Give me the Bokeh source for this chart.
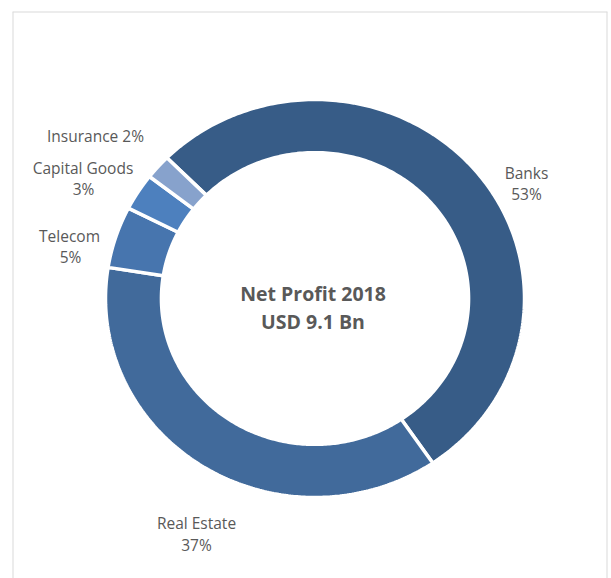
import numpy as np
from bokeh.plotting import figure
from bokeh.models import ColumnDataSource, Range1d, Span
from bokeh.core.properties import value
from bokeh.embed import file_html
from bokeh.resources import INLINE

# ---- data ----
sectors = ["Banks", "Real Estate", "Telecom", "Capital Goods", "Insurance"]
shares = [53, 37, 5, 3, 2]
colors = ["#375C87", "#416A9B", "#4775AE", "#4D80BE", "#87A2CC"]
title_lines = ["Net Profit 2018", "USD 9.1 Bn"]

# ---- layout (pixels) ----
W, H = 611, 578
ML, MR, MT, MB = 12, 4, 11, 0
FW, FH = W - ML - MR, H - MT - MB
CX, CY = 302.5, 287.0          # donut centre inside the frame (from top-left)
RX, RY = 209.5, 199.0          # outer radius in px (x / y)
INNER = 0.733                  # inner radius / outer radius
FIRST_ANGLE = 315.0            # angle of first slice, clockwise from 12 o'clock

x_range = Range1d(-CX / RX, (FW - CX) / RX)
y_range = Range1d(-(FH - CY) / RY, CY / RY)

def px(x, y):
    """frame pixel -> data coords"""
    return (x - CX) / RX, (CY - y) / RY

p = figure(width=W, height=H, x_range=x_range, y_range=y_range,
           output_backend="svg", toolbar_location=None,
           min_border_left=ML, min_border_right=MR, min_border_top=MT, min_border_bottom=MB)
p.axis.visible = False
p.grid.visible = False
p.outline_line_color = None
p.background_fill_color = "white"
p.border_fill_color = "white"

# chart-area border: left, top, right only (bottom is cut off in the reference)
for loc, dim in [(x_range.start, "height"), (x_range.end, "height"), (y_range.end, "width")]:
    p.add_layout(Span(location=loc, dimension=dim, line_color="#D9D9D9", line_width=2))

# ---- donut slices ----
total = float(sum(shares))
xs, ys = [], []
start = FIRST_ANGLE
for v in shares:
    end = start + v / total * 360.0
    t = np.radians(np.linspace(start, end, 200))
    ox, oy = np.sin(t), np.cos(t)
    ix, iy = INNER * np.sin(t[::-1]), INNER * np.cos(t[::-1])
    xs.append(list(np.concatenate([ox, ix])))
    ys.append(list(np.concatenate([oy, iy])))
    start = end

src = ColumnDataSource(dict(xs=xs, ys=ys, color=colors, name=sectors))
p.patches("xs", "ys", source=src, fill_color="color", line_color="white", line_width=3.5)

# ---- labels (placement in page px, converted to frame) ----
OFFX, OFFY = ML, MT
label_pos = {
    "Banks": [(526, 172), (526, 193)],
    "Real Estate": [(196, 522), (196, 544)],
    "Telecom": [(69, 235), (70, 256)],
    "Capital Goods": [(82.5, 167), (83, 188)],
    "Insurance": [(95, 135)],
}
lx, ly, lt = [], [], []
for name, v in zip(sectors, shares):
    pos = label_pos[name]
    if len(pos) == 1:
        texts = [f"{name} {v}%"]
    else:
        texts = [name, f"{v}%"]
    for (x, y), t in zip(pos, texts):
        dx, dy = px(x - OFFX, y - OFFY)
        lx.append(dx); ly.append(dy); lt.append(t)

p.text(x=lx, y=ly, text=lt, text_align="center", text_baseline="middle",
       text_color="#595959", text_font=value("Open Sans"), text_font_size="15.5px")

# ---- centre title ----
cpos = [(312.5, 293), (312.5, 321)]
tx, ty = [], []
for (x, y) in cpos:
    dx, dy = px(x - OFFX, y - OFFY)
    tx.append(dx); ty.append(dy)
p.text(x=tx, y=ty, text=title_lines, text_align="center", text_baseline="middle",
       text_color="#595959", text_font=value("Open Sans"), text_font_style="bold",
       text_font_size="19.5px")

open("out.html", "w").write(file_html(p, INLINE))
